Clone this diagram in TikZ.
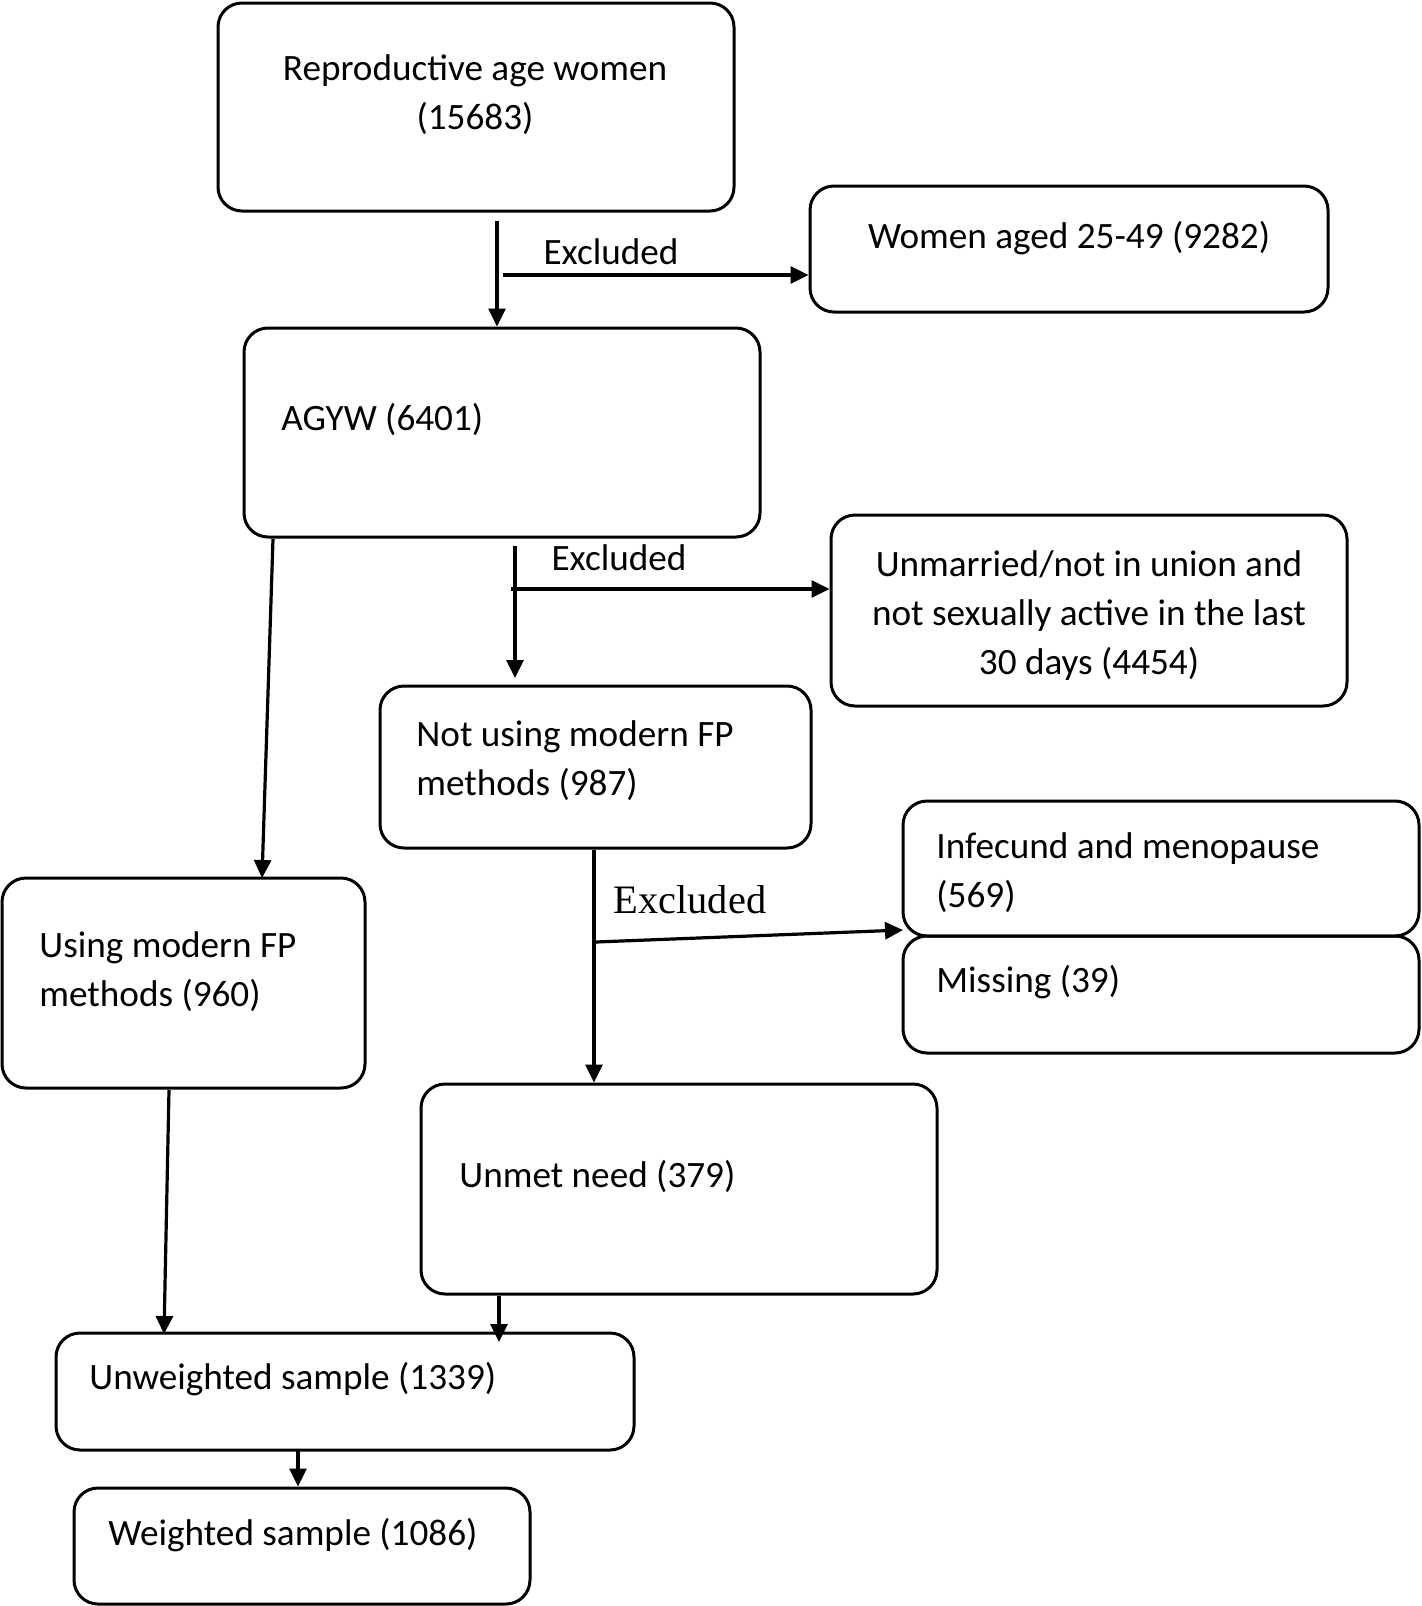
\documentclass[tikz,border=0pt]{standalone}
\usepackage{fontspec}
\setmainfont{Carlito}
\newfontfamily\timesfont{Liberation Serif}
\usetikzlibrary{arrows.meta, fit}

\begin{document}
\begin{tikzpicture}[
    x=0.5pt, y=-0.5pt,
    box/.style={rectangle, draw=black, line width=1.5pt, rounded corners=12pt,
                inner sep=0pt},
    txt/.style={inner sep=0pt, font=\fontsize{18.6}{24.5}\selectfont},
    arr/.style={-{Triangle[length=9pt, width=8.5pt]}, line width=1.6pt},
]
\useasboundingbox (0,0) rectangle (1421,1606);

% Boxes
\node[box, fit={(218,3) (734,211)}] (rep) {};
\node[box, fit={(810,186) (1328,312)}] (women) {};
\node[box, fit={(244,328) (760,537)}] (agyw) {};
\node[box, fit={(831,515) (1347,706)}] (unmarried) {};
\node[box, fit={(380,686) (811,848)}] (notusing) {};
\node[box, fit={(2,878) (365,1088)}] (using) {};
\node[box, fit={(903,801) (1419,936)}] (infecund) {};
\node[box, fit={(903,936) (1419,1053)}] (missing) {};
\node[box, fit={(421,1084) (937,1294)}] (unmet) {};
\node[box, fit={(56,1333) (634,1450)}] (unweighted) {};
\node[box, fit={(74,1488) (530,1604)}] (weighted) {};

% Texts (multi-line texts sit on their last baseline)
\node[txt, anchor=base, align=center] (rep-t) at (475,129) {Reproductive age women\\(15683)};
\node[txt, anchor=base] (women-t) at (1069,248) {Women aged 25-49 (9282)};
\node[txt, anchor=base west] (agyw-t) at (281,430) {AGYW (6401)};
\node[txt, anchor=base, align=center] (unmarried-t) at (1089,674) {Unmarried/not in union and\\not sexually active in the last\\30 days (4454)};
\node[txt, anchor=base west, align=left] (notusing-t) at (416,795) {Not using modern FP\\methods (987)};
\node[txt, anchor=base west, align=left] (using-t) at (39,1006) {Using modern FP\\methods (960)};
\node[txt, anchor=base west, align=left] (infecund-t) at (936,907) {Infecund and menopause\\(569)};
\node[txt, anchor=base west] (missing-t) at (936,992) {Missing (39)};
\node[txt, anchor=base west] (unmet-t) at (459,1187) {Unmet need (379)};
\node[txt, anchor=base west] (unweighted-t) at (89,1389) {Unweighted sample (1339)};
\node[txt, anchor=base west] (weighted-t) at (108,1545) {Weighted sample (1086)};

% Excluded labels
\node[txt, anchor=base] (ex1) at (611,264) {Excluded};
\node[txt, anchor=base] (ex2) at (619,570) {Excluded};
\node[inner sep=0pt, anchor=base, font=\timesfont\fontsize{20.2}{24}\selectfont] (ex3) at (690,913) {Excluded};

% Branch points
\coordinate (c1) at (497,221);
\coordinate (b1) at (503,275);
\coordinate (c2) at (515,546);
\coordinate (e2) at (515,678);
\coordinate (b2) at (511,589);
\coordinate (c3) at (273,539);
\coordinate (e3) at (262,878);
\coordinate (c4) at (594,850);
\coordinate (b3) at (596,942);
\coordinate (e5) at (903,930);
\coordinate (c5) at (169,1090);
\coordinate (e6) at (164,1334);
\coordinate (c6) at (499,1296);
\coordinate (e7) at (499,1342);
\coordinate (c7) at (298,1450);

% Arrows
\draw[arr] (c1) -- (c1 |- agyw.north);
\draw[arr] (b1) -- (b1 -| women.west);
\draw[arr] (c2) -- (e2);
\draw[arr] (b2) -- (b2 -| unmarried.west);
\draw[arr] (c3) -- (e3);
\draw[arr] (c4) -- (c4 |- unmet.north);
\draw[arr] (b3) -- (e5);
\draw[arr] (c5) -- (e6);
\draw[arr] (c6) -- (e7);
\draw[arr] (c7) -- (c7 |- weighted.north);

\end{tikzpicture}
\end{document}
